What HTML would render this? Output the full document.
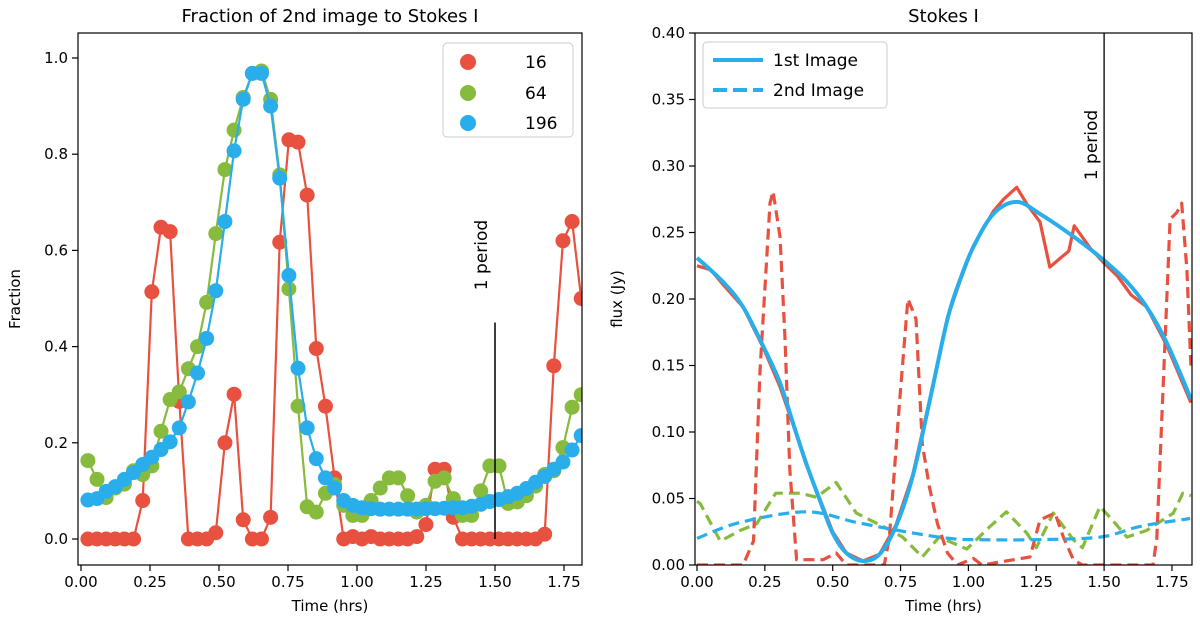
<!DOCTYPE html>
<html><head><meta charset="utf-8">
<style>
body{margin:0;background:#fff;}
svg{display:block;font-family:"DejaVu Sans","Liberation Sans",sans-serif;}
</style></head>
<body>
<svg id="fig" width="1200" height="636" viewBox="0 0 1200 636" xmlns="http://www.w3.org/2000/svg">
<rect width="1200" height="636" fill="#fff"/>
<g id="left"></g>
<g id="right"></g>
</svg>
<script>
// ---------- Left panel data ----------
const leftT0 = 0.025, leftDt = 0.0331;
const frac16 = [0,0,0,0,0,0,0.08,0.514,0.648,0.639,0.286,0,0,0,0.013,0.2,0.301,0.04,0,0,0.045,0.617,0.83,0.825,0.715,0.396,0.276,0.127,0,0.005,0,0.005,0,0,0,0,0.005,0.03,0.145,0.145,0.045,0,0,0,0,0,0,0,0,0,0.01,0.36,0.62,0.66,0.5];
const frac64 = [0.163,0.124,0.086,0.106,0.114,0.142,0.134,0.152,0.224,0.29,0.306,0.354,0.4,0.492,0.635,0.768,0.85,0.918,0.968,0.973,0.914,0.757,0.52,0.276,0.067,0.056,0.095,0.113,0.07,0.049,0.049,0.08,0.106,0.127,0.127,0.09,0.056,0.07,0.12,0.127,0.084,0.049,0.049,0.1,0.152,0.152,0.074,0.077,0.09,0.11,0.134,0.142,0.19,0.274,0.3];
const frac196 = [0.081,0.084,0.099,0.109,0.124,0.138,0.155,0.17,0.186,0.202,0.231,0.285,0.345,0.417,0.516,0.66,0.807,0.914,0.968,0.968,0.9,0.75,0.548,0.355,0.231,0.167,0.127,0.106,0.08,0.07,0.065,0.063,0.062,0.062,0.062,0.062,0.062,0.063,0.063,0.064,0.065,0.065,0.068,0.072,0.078,0.082,0.088,0.095,0.105,0.118,0.13,0.145,0.16,0.185,0.215];
const leftXTicks = [0,0.25,0.5,0.75,1.0,1.25,1.5,1.75];
const leftXTickLabels = ["0.00","0.25","0.50","0.75","1.00","1.25","1.50","1.75"];
const leftYTicks = [0,0.2,0.4,0.6,0.8,1.0];
const leftYTickLabels = ["0.0","0.2","0.4","0.6","0.8","1.0"];
const leftSeriesNames = ["16","64","196"];

// ---------- Right panel data ----------
const solid196T = [0,0.1,0.17,0.245,0.306,0.355,0.403,0.452,0.5,0.55,0.611,0.672,0.733,0.795,0.856,0.923,0.97,1.018,1.092,1.178,1.264,1.387,1.5,1.584,1.657,1.731,1.82];
const solid196V = [0.231,0.212,0.194,0.164,0.137,0.106,0.076,0.049,0.024,0.009,0.003,0.008,0.029,0.067,0.122,0.185,0.215,0.239,0.264,0.273,0.264,0.247,0.229,0.213,0.194,0.167,0.125];
const solid16T = [0,0.05,0.1,0.17,0.245,0.306,0.355,0.403,0.452,0.5,0.55,0.611,0.672,0.733,0.795,0.856,0.923,0.97,1.018,1.092,1.13,1.178,1.22,1.264,1.3,1.34,1.37,1.39,1.45,1.5,1.55,1.6,1.657,1.731,1.82];
const solid16V = [0.225,0.222,0.21,0.194,0.163,0.134,0.105,0.075,0.05,0.025,0.009,0.003,0.008,0.03,0.068,0.123,0.186,0.214,0.24,0.266,0.275,0.284,0.27,0.258,0.224,0.231,0.236,0.255,0.238,0.227,0.217,0.203,0.194,0.165,0.122];
const dash16T = [0,0.17,0.208,0.232,0.269,0.28,0.306,0.324,0.342,0.367,0.465,0.513,0.55,0.69,0.709,0.746,0.777,0.807,0.83,0.856,0.886,0.923,0.96,1.018,1.05,1.227,1.264,1.319,1.35,1.387,1.42,1.68,1.694,1.72,1.743,1.768,1.786,1.805,1.82];
const dash16V = [0,0,0.018,0.146,0.272,0.281,0.247,0.172,0.072,0.004,0.004,0.009,0,0,0.021,0.122,0.2,0.185,0.091,0.059,0.031,0.009,0,0.005,0,0.006,0.034,0.039,0.021,0.004,0,0,0.02,0.146,0.26,0.265,0.272,0.222,0.15];
const dash64T = [0,0.012,0.086,0.16,0.22,0.29,0.38,0.44,0.513,0.587,0.685,0.758,0.83,0.892,0.994,1.08,1.14,1.215,1.25,1.313,1.387,1.42,1.485,1.53,1.584,1.657,1.755,1.79,1.82];
const dash64V = [0.048,0.046,0.018,0.026,0.031,0.054,0.054,0.051,0.062,0.039,0.029,0.021,0.006,0.021,0.012,0.029,0.04,0.024,0.013,0.039,0.019,0.013,0.044,0.034,0.021,0.026,0.039,0.054,0.052];
const dash196T = [0,0.159,0.403,0.587,0.77,0.93,1.04,1.24,1.485,1.633,1.817];
const dash196V = [0.02,0.032,0.04,0.032,0.025,0.02,0.019,0.019,0.021,0.029,0.035];
const rightXTicks = [0,0.25,0.5,0.75,1.0,1.25,1.5,1.75];
const rightXTickLabels = ["0.00","0.25","0.50","0.75","1.00","1.25","1.50","1.75"];
const rightYTicks = [0,0.05,0.1,0.15,0.2,0.25,0.3,0.35,0.4];
const rightYTickLabels = ["0.00","0.05","0.10","0.15","0.20","0.25","0.30","0.35","0.40"];

const RED="#e8513f", GREEN="#86bb3d", BLUE="#29adeb";
const NS="http://www.w3.org/2000/svg";
function mk(parent, tag, attrs, text){
  const e=document.createElementNS(NS,tag);
  for(const k in attrs) e.setAttribute(k,attrs[k]);
  if(text!==undefined) e.textContent=text;
  parent.appendChild(e); return e;
}
function smoothPath(pts){
  let d="M"+pts[0][0]+","+pts[0][1];
  for(let i=0;i<pts.length-1;i++){
    const p0=pts[Math.max(i-1,0)],p1=pts[i],p2=pts[i+1],p3=pts[Math.min(i+2,pts.length-1)];
    const c1=[p1[0]+(p2[0]-p0[0])/6,p1[1]+(p2[1]-p0[1])/6];
    const c2=[p2[0]-(p3[0]-p1[0])/6,p2[1]-(p3[1]-p1[1])/6];
    d+=" C"+c1[0]+","+c1[1]+" "+c2[0]+","+c2[1]+" "+p2[0]+","+p2[1];
  }
  return d;
}

// ===== LEFT =====
(function(){
  const g=document.getElementById('left');
  const L=78,R=582,T=33,B=565;
  const X=t=>81+t*276, Y=v=>539-v*481;
  const defs=mk(g,'clipPath',{id:'clipL'}); mk(defs,'rect',{x:L,y:T,width:R-L,height:B-T});
  const plot=mk(g,'g',{'clip-path':'url(#clipL)'});
  const series=[[frac16,RED],[frac64,GREEN],[frac196,BLUE]];
  series.forEach((s,si)=>{
    const sg=mk(plot,'g',{});
    
    
    const pts=s[0].map((v,i)=>X(leftT0+i*leftDt).toFixed(1)+","+Y(v).toFixed(1)).join(" ");
    mk(sg,'polyline',{points:pts,fill:'none',stroke:s[1],'stroke-width':2.2});
    s[0].forEach((v,i)=>{
      const c=mk(sg,'circle',{cx:X(leftT0+i*leftDt),cy:Y(v),r:7.5,fill:s[1]});
      
      
    });
  });
  const pl=mk(g,'line',{x1:X(1.5),x2:X(1.5),y1:Y(0),y2:Y(0.45),stroke:'#000','stroke-width':1.5});
  
  
  const pt=mk(g,'text',{x:0,y:0,transform:`translate(${X(1.5)-8},255) rotate(-90)`,'text-anchor':'middle','font-size':17},'1 period');
  
  
  mk(g,'rect',{x:L,y:T,width:R-L,height:B-T,fill:'none',stroke:'#000','stroke-width':1.2});
  leftXTicks.forEach((t,i)=>{
    mk(g,'line',{x1:X(t),x2:X(t),y1:B,y2:B+6,stroke:'#000','stroke-width':1.2});
    const tx=mk(g,'text',{x:X(t),y:B+22,'text-anchor':'middle','font-size':15},leftXTickLabels[i]);
    
    
  });
  leftYTicks.forEach((v,i)=>{
    mk(g,'line',{x1:L,x2:L-6,y1:Y(v),y2:Y(v),stroke:'#000','stroke-width':1.2});
    const tx=mk(g,'text',{x:L-10,y:Y(v)+5,'text-anchor':'end','font-size':15},leftYTickLabels[i]);
    
    
  });
  const ttl=mk(g,'text',{x:(L+R)/2,y:22,'text-anchor':'middle','font-size':18},'Fraction of 2nd image to Stokes I');
  
  
  const xl=mk(g,'text',{x:(L+R)/2,y:611,'text-anchor':'middle','font-size':15},'Time (hrs)');
  
  
  const yl=mk(g,'text',{x:0,y:0,transform:'translate(20,299) rotate(-90)','text-anchor':'middle','font-size':15},'Fraction');
  
  
  const lg=mk(g,'g',{});
  
  
  mk(lg,'rect',{x:443,y:43,width:130,height:94,rx:4,fill:'#fff',stroke:'#ccc','stroke-width':1});
  [[RED,'16',62],[GREEN,'64',93],[BLUE,'196',123]].forEach(e=>{
    const eg=mk(lg,'g',{});
    
    
    mk(eg,'circle',{cx:468,cy:e[2],r:8,fill:e[0]});
    mk(eg,'text',{x:525,y:e[2]+6,'font-size':17},e[1]);
  });
})();

// ===== RIGHT =====
(function(){
  const g=document.getElementById('right');
  const L=695,R=1192,T=33,B=565;
  const X=t=>697+t*271.4, Y=v=>565-v*1330;
  const defs=mk(g,'clipPath',{id:'clipR'}); mk(defs,'rect',{x:L,y:T,width:R-L,height:B-T});
  const plot=mk(g,'g',{'clip-path':'url(#clipR)'});
  const P=(ts,vs)=>ts.map((t,i)=>[+X(t).toFixed(1),+Y(vs[i]).toFixed(1)]);
  const lines=[
    [dash64T,dash64V,GREEN,true,'dashed-64'],
    [dash16T,dash16V,RED,true,'dashed-16'],
    [solid16T,solid16V,RED,false,'solid-16'],
    [dash196T,dash196V,BLUE,true,'dashed-196'],
    [solid196T,solid196V,BLUE,false,'solid-196']
  ];
  lines.forEach(l=>{
    const pts=P(l[0],l[1]);
    const a={fill:'none',stroke:l[2],'stroke-width':l[4]==='solid-196'?4:3.2,'stroke-linejoin':'round'};
    if(l[3]) a['stroke-dasharray']='11,6';
    a.d = (l[4]==='solid-196'||l[4]==='dashed-196') ? smoothPath(pts) : "M"+pts.map(p=>p.join(",")).join(" L");
    const e=mk(plot,'path',a);
    
    
  });
  const pl=mk(g,'line',{x1:X(1.5),x2:X(1.5),y1:T,y2:B,stroke:'#000','stroke-width':1.3});
  
  
  const pt=mk(g,'text',{x:0,y:0,transform:`translate(${X(1.5)-7},145) rotate(-90)`,'text-anchor':'middle','font-size':17},'1 period');
  
  
  mk(g,'rect',{x:L,y:T,width:R-L,height:B-T,fill:'none',stroke:'#000','stroke-width':1.2});
  rightXTicks.forEach((t,i)=>{
    mk(g,'line',{x1:X(t),x2:X(t),y1:B,y2:B+6,stroke:'#000','stroke-width':1.2});
    const tx=mk(g,'text',{x:X(t),y:B+22,'text-anchor':'middle','font-size':15},rightXTickLabels[i]);
    
    
  });
  rightYTicks.forEach((v,i)=>{
    mk(g,'line',{x1:L,x2:L-6,y1:Y(v),y2:Y(v),stroke:'#000','stroke-width':1.2});
    const tx=mk(g,'text',{x:L-10,y:Y(v)+5,'text-anchor':'end','font-size':15},rightYTickLabels[i]);
    
    
  });
  const ttl=mk(g,'text',{x:(L+R)/2,y:22,'text-anchor':'middle','font-size':18},'Stokes I');
  
  
  const xl=mk(g,'text',{x:(L+R)/2,y:611,'text-anchor':'middle','font-size':15},'Time (hrs)');
  
  
  const yl=mk(g,'text',{x:0,y:0,transform:'translate(622,299) rotate(-90)','text-anchor':'middle','font-size':15},'flux (Jy)');
  
  
  const lg=mk(g,'g',{});
  
  
  mk(lg,'rect',{x:703,y:42,width:184,height:66,rx:4,fill:'#fff',stroke:'#ccc','stroke-width':1});
  const e1=mk(lg,'g',{});
  
  
  mk(e1,'line',{x1:713,x2:763,y1:60,y2:60,stroke:BLUE,'stroke-width':4});
  mk(e1,'text',{x:773,y:66,'font-size':17},'1st Image');
  const e2=mk(lg,'g',{});
  
  
  mk(e2,'line',{x1:713,x2:763,y1:90,y2:90,stroke:BLUE,'stroke-width':4,'stroke-dasharray':'14,6'});
  mk(e2,'text',{x:773,y:96,'font-size':17},'2nd Image');
})();
</script>
</body></html>
